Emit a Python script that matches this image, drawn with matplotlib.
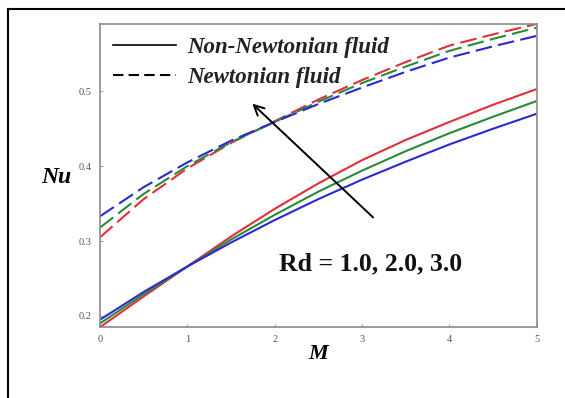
import matplotlib
matplotlib.use("Agg")
import matplotlib.pyplot as plt
from matplotlib.lines import Line2D

M = [0, 0.5, 1, 1.5, 2, 2.5, 3, 3.5, 4, 4.5, 5]

# Non-Newtonian fluid (solid)
nn_rd1 = [0.185, 0.226, 0.266, 0.306, 0.343, 0.377, 0.408, 0.435, 0.459, 0.482, 0.503]
nn_rd2 = [0.190, 0.229, 0.266, 0.302, 0.335, 0.366, 0.394, 0.420, 0.444, 0.466, 0.487]
nn_rd3 = [0.195, 0.232, 0.266, 0.298, 0.328, 0.356, 0.382, 0.406, 0.429, 0.450, 0.470]

# Newtonian fluid (dashed)
n_rd1 = [0.305, 0.356, 0.397, 0.431, 0.460, 0.489, 0.515, 0.539, 0.561, 0.576, 0.590]
n_rd2 = [0.318, 0.363, 0.400, 0.432, 0.459, 0.486, 0.511, 0.533, 0.554, 0.570, 0.585]
n_rd3 = [0.333, 0.372, 0.405, 0.434, 0.459, 0.483, 0.505, 0.526, 0.545, 0.560, 0.574]

x_ticks = [0, 1, 2, 3, 4, 5]
y_ticks = [0.2, 0.3, 0.4, 0.5]

red, green, blue = "#e0303c", "#2a8a3a", "#2a2ad0"
serif = ["Liberation Serif", "DejaVu Serif"]

fig = plt.figure(figsize=(5.65, 3.98), dpi=100)
ax = fig.add_axes([0.177, 0.178, 0.773, 0.762])

lw = 1.5
for y, c in [(nn_rd1, red), (nn_rd2, green), (nn_rd3, blue)]:
    ax.plot(M, y, color=c, lw=lw, solid_capstyle="butt")
for y, c in [(n_rd1, red), (n_rd2, green), (n_rd3, blue)]:
    ax.plot(M, y, color=c, lw=lw, linestyle=(0, (8, 3)))

ax.set_xlim(0, 5)
ax.set_ylim(0.185, 0.59)
ax.set_xticks(x_ticks)
ax.set_xticklabels([str(v) for v in x_ticks])
ax.set_yticks(y_ticks)
ax.set_yticklabels([f"{v:.1f}" for v in y_ticks])
for lab in ax.get_xticklabels() + ax.get_yticklabels():
    lab.set_fontfamily(serif)
    lab.set_fontsize(7.5)
    lab.set_color("#555555")
ax.tick_params(direction="in", length=2.5, width=0.6, color="#888888", pad=6)
for s in ax.spines.values():
    s.set_color("#8a8a8a")
    s.set_linewidth(1.2)

ax.set_xlabel("M", fontfamily=serif, fontsize=16, fontweight="bold", style="italic", labelpad=0)
ax.set_ylabel("Nu", fontfamily=serif, fontsize=17, fontweight="bold", style="italic",
              rotation=0)
ax.yaxis.set_label_coords(-0.1, 0.46)

handles = [Line2D([], [], color="black", lw=1.2),
           Line2D([], [], color="black", lw=1.5, linestyle=(0, (5, 2.5)))]
leg = ax.legend(handles, ["Non-Newtonian fluid", "Newtonian fluid"], loc="upper left",
                frameon=False, handlelength=2.75, handletextpad=0.5, borderaxespad=0.2,
                labelspacing=0.4, borderpad=0.35,
                prop={"family": serif, "size": 16.5, "weight": "bold", "style": "italic"})
for t in leg.get_texts():
    t.set_color("#222222")

ax.annotate("", xy=(1.72, 0.486), xytext=(3.15, 0.329),
            arrowprops=dict(arrowstyle="->", color="black", lw=1.4, mutation_scale=18))
ax.text(2.05, 0.270, "Rd = 1.0, 2.0, 3.0", fontfamily=serif, fontsize=18.5,
        fontweight="bold", color="#111111", va="center", ha="left")

# outer frame (left and top edges visible)
fig.add_artist(Line2D([7.5 / 565, 7.5 / 565], [0, 1 - 9 / 398], color="black", lw=1.5,
                      transform=fig.transFigure))
fig.add_artist(Line2D([7.5 / 565, 1], [1 - 9 / 398, 1 - 9 / 398], color="black", lw=1.5,
                      transform=fig.transFigure))

fig.savefig("out.png", dpi=100)
